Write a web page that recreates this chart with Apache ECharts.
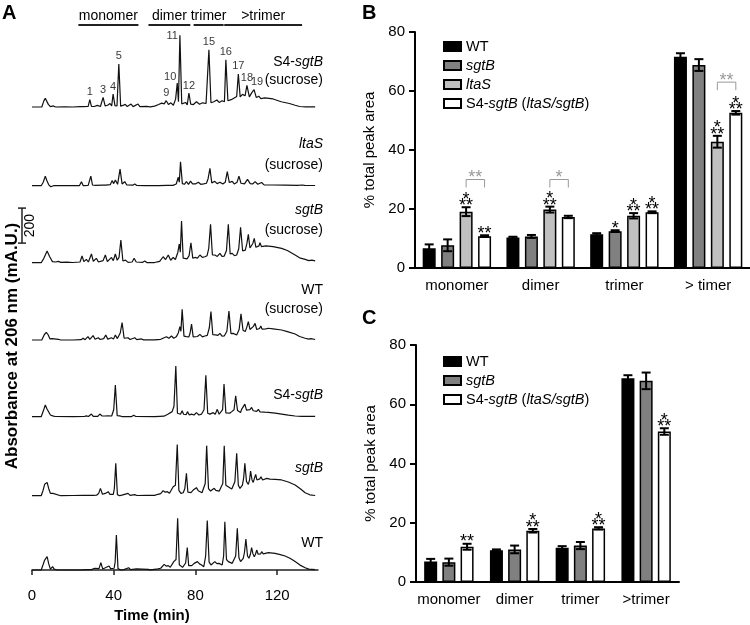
<!DOCTYPE html>
<html><head><meta charset="utf-8">
<script src="https://cdn.jsdelivr.net/npm/echarts@6/dist/echarts.min.js"></script>
<style>html,body{margin:0;padding:0;background:#fff}#c{width:750px;height:625px}</style>
</head><body><div id="c"></div><script>
// ---------------- DATA ----------------
// Panel A: HPLC chromatograms, [time (min), absorbance (mAU above baseline)]
const timeTicks = [0, 40, 80, 120];
const traceS4Suc = [[0,0],[4.8,0],[5.8,35],[6.5,50],[7.2,42],[8,15],[9,2],[10.5,6],[11.5,0],[16,1],[20,0],[23.5,2],[24.2,13],[25,2],[27.5,3],[28.3,42],[29.1,4],[30.5,3],[32,9],[33.5,3],[34.8,55],[35.8,6],[37,10],[38.2,20],[39,6],[39.7,74],[40.6,8],[41.6,6],[42.5,246],[43.4,5],[44.5,9],[45.6,15],[46.6,3],[48.5,17],[49.5,2],[51.9,17],[52.8,2],[56,4],[58,1],[60,5],[62,14],[63.5,22],[64.7,18],[65.7,36],[66.8,14],[68,24],[69.2,10],[70.3,45],[71.1,137],[71.7,30],[72.4,410],[73.3,18],[74.2,14],[75.2,26],[76,12],[76.8,80],[77.7,16],[79,14],[80.5,30],[82,16],[83.5,24],[85.2,20],[86.6,327],[87.6,24],[89,30],[90.5,40],[91.6,26],[93,36],[94.2,30],[94.9,270],[95.9,36],[97.5,42],[99,52],[100.2,60],[101,189],[101.9,58],[103,72],[104.3,64],[105.2,124],[106.4,58],[107.6,82],[108.7,99],[109.8,54],[111,62],[112,48],[114,52],[118,46],[122,30],[126,20],[128.8,10],[131,3],[134,1],[138.6,1]];
const traceLtaSSuc = [[0,0],[4.5,0],[5.5,20],[6.5,55],[7.3,28],[8.2,5],[9.2,-6],[10.5,0],[23.2,0],[24.2,23],[25.1,0],[27.5,2],[28.8,55],[29.6,4],[31,2],[34.5,3],[35.3,13],[36.1,3],[38.3,6],[39.2,29],[40,12],[40.8,32],[41.9,8],[43.1,95],[44.1,10],[45.4,23],[46.4,4],[49.3,3],[50.3,10],[51.3,1],[55,0],[62,0],[66,2],[69,2],[70.6,10],[71.6,48],[72.1,20],[72.7,137],[73.6,12],[74.6,8],[75.6,23],[76.6,8],[77.6,26],[78.6,10],[80,10],[81.4,20],[82.6,8],[84,10],[85.4,14],[86.2,40],[87.1,99],[88,16],[89.5,25],[90.6,12],[92,20],[93.4,10],[94.6,20],[95.6,80],[96.6,18],[98,25],[99,10],[100.4,20],[101.3,55],[102.3,14],[104,10],[105.5,36],[106.8,12],[108,10],[109.2,23],[110.5,8],[112.4,18],[113.6,5],[118,4],[124,3],[130,2],[132.2,4],[132.8,15],[133.5,2],[138.6,1]];
const traceSgtBSuc = [[0,0],[4.5,0],[5.8,25],[7.4,67],[8.6,35],[10,6],[11.5,4],[13,8],[14,2],[17,3],[20,1],[23.5,4],[24.5,38],[25.4,6],[26.6,19],[27.6,4],[28.3,10],[29.1,50],[30,8],[31.5,25],[32.5,4],[34.8,12],[35.9,44],[36.9,6],[38.9,30],[39.8,12],[40.8,50],[41.7,14],[42.6,30],[43.5,130],[44.5,10],[45.8,15],[47,2],[49,4],[50,25],[51,4],[54.2,2],[55.2,10],[56.2,1],[60,1],[62.5,8],[64.2,34],[65.4,18],[66.7,44],[67.9,14],[69.1,30],[70.2,18],[71.4,60],[72.1,107],[72.6,60],[73.2,238],[74,26],[74.8,30],[75.9,22],[76.9,40],[77.8,114],[78.7,26],[79.8,30],[81,26],[82.2,44],[83.4,30],[84.6,34],[85.7,40],[86.5,80],[87.4,219],[88.3,44],[89.5,44],[90.7,36],[92,53],[93,36],[94.1,38],[95.2,70],[96.1,219],[97,50],[98,53],[99.1,40],[100.2,44],[101.2,80],[102.1,202],[103.1,68],[104.4,72],[105.2,110],[105.9,162],[106.7,84],[107.5,91],[108.1,110],[108.8,139],[109.6,88],[110.5,82],[111.1,96],[111.6,114],[112.3,92],[113.2,91],[114.5,96],[115.7,95],[118,92],[122.2,82],[125,70],[128.8,44],[131,28],[133.7,19],[135.5,12],[137,15],[138.6,10]];
const traceWTSuc = [[0,0],[4.8,0],[6,30],[7,44],[7.9,30],[8.8,6],[9.8,8],[10.6,2],[13,4],[14,0],[20,0],[24,2],[25,10],[26,2],[27.4,19],[28.3,4],[29.9,25],[30.9,4],[32.4,13],[33.4,3],[35.1,8],[36.1,29],[37.1,5],[38.9,13],[39.9,5],[40.8,29],[41.8,8],[43.2,40],[44.1,99],[45.1,10],[47,13],[48,3],[50.3,13],[51.3,2],[53.6,6],[54.6,1],[60,1],[63,4],[65.8,19],[67,10],[68.3,23],[69.4,10],[70.6,18],[71.6,40],[72.4,76],[72.9,50],[73.5,175],[74.4,22],[75.6,19],[76.8,18],[77.4,40],[78.1,91],[78.9,18],[79.8,19],[81,20],[82.2,32],[83.4,18],[84.6,23],[85.8,26],[86.8,70],[87.6,162],[88.5,30],[89.9,29],[91,26],[92,38],[93,22],[94.1,23],[95.4,50],[96.4,166],[97.4,36],[98.5,38],[99.4,30],[100.2,29],[101.4,60],[102.3,149],[103.3,56],[104.4,48],[105.2,75],[105.9,105],[106.7,60],[107.5,57],[108.4,78],[109.2,95],[110,60],[110.8,53],[111.4,66],[112,80],[112.6,62],[113.2,57],[114.5,64],[115.7,67],[118,64],[122.2,57],[125,48],[128.8,34],[131,20],[133.7,10],[135.5,5],[136.5,8],[138.6,3]];
const traceS4 = [[0,0],[4.5,0],[5.6,35],[6.5,67],[7.3,45],[8,40],[9,10],[10.5,3],[11.5,1],[20,0],[25.6,1],[26.6,5],[27.6,1],[28.4,2],[29.1,15],[30,2],[32.2,2],[33.2,15],[34.2,5],[35.5,4],[36.4,15],[37.2,5],[38,8],[39,4],[40,40],[40.8,181],[41.7,6],[42.9,5],[44,1],[48.8,1],[49.8,8],[50.8,1],[60,0],[62.5,2],[63.4,8],[64.6,3],[66.7,15],[67.6,10],[68.6,29],[69.5,60],[70.4,290],[71.2,20],[71.9,19],[72.7,14],[73.5,34],[74.2,14],[74.8,19],[75.5,12],[76.1,29],[77,10],[78.1,15],[79.3,10],[80.5,23],[81.7,10],[83,15],[84.2,40],[85.1,236],[86,20],[87.1,15],[88,12],[88.7,23],[89.7,14],[90.7,42],[91.6,14],[92.5,15],[93.3,40],[94,187],[94.9,22],[95.8,23],[96.8,20],[97.8,29],[98.9,40],[99.7,120],[100.6,36],[101.5,34],[102.1,24],[102.6,42],[103.5,45],[104.2,72],[105,38],[105.9,29],[106.7,40],[107.5,53],[108.3,34],[109.2,38],[110,30],[110.8,42],[111.6,28],[112.4,29],[114,26],[115.7,25],[119,20],[122.2,15],[125.5,9],[128.8,4],[132,2],[138.6,2]];
const traceSgtB = [[0,0],[4.5,0],[5.4,30],[6.2,65],[6.8,58],[7.4,76],[8.2,40],[9,13],[9.7,8],[10.3,13],[11,2],[14,0],[20,1],[25,2],[28.3,2],[29.1,10],[29.9,2],[30.7,13],[31.6,3],[32.6,12],[33.5,42],[34.5,8],[35.9,13],[36.6,6],[37.3,23],[38.1,8],[38.9,17],[39.8,8],[40.3,40],[41,185],[41.8,6],[42.9,0],[44,3],[47,13],[48,2],[50.3,6],[51.3,1],[56,2],[60,2],[61.7,8],[63,12],[64.2,29],[65.2,20],[66.3,23],[67.3,14],[68,25],[69.1,51],[70.2,60],[71.1,293],[71.9,30],[72.9,13],[74,17],[74.8,40],[75.6,128],[76.3,20],[76.8,13],[77.8,18],[78.9,32],[79.7,26],[80.5,46],[81.4,28],[82.2,23],[83.2,17],[83.8,17],[84.8,70],[85.5,286],[86.4,40],[87.4,27],[88.3,32],[89.2,42],[90,30],[90.8,36],[91.6,26],[92.5,27],[93.4,70],[94.1,286],[94.9,60],[95.8,51],[96.8,45],[97.8,38],[99.3,80],[100.2,242],[101,60],[101.8,42],[102.4,50],[103,61],[103.6,100],[104.2,185],[105,80],[105.9,65],[106.5,90],[107,141],[107.7,90],[108.3,76],[108.9,100],[109.5,122],[110.1,90],[110.8,84],[111.5,96],[112.1,108],[112.9,90],[113.6,90],[114.9,99],[116.5,95],[119,93],[122.2,90],[125.5,78],[128.8,61],[131.5,38],[133.7,17],[136,5],[138.6,1]];
const traceWT = [[0,0],[4.5,0],[5.4,30],[6.2,57],[6.8,50],[7.4,76],[8.2,35],[9,5],[9.6,10],[10.1,19],[10.8,5],[11.6,4],[12.5,0],[20,0],[24.5,1],[27.5,2],[28.3,10],[29.1,2],[30,3],[30.7,10],[31.5,2],[32.8,8],[33.7,42],[34.6,6],[35.9,13],[36.8,8],[37.7,23],[38.5,8],[39.2,13],[40.2,10],[40.7,45],[41.3,200],[42.1,8],[43.4,0],[45,2],[47.3,13],[48.3,2],[51.1,6],[52,1],[56.9,4],[58,1],[61.7,6],[63,10],[64.7,32],[65.7,22],[66.7,25],[67.7,16],[68.5,25],[69.4,48],[70.5,60],[71.3,295],[72.1,30],[72.9,19],[73.7,15],[74.4,19],[75.2,40],[76,128],[76.7,25],[77.3,19],[78.2,25],[79.4,38],[80.2,35],[81,48],[82,35],[83,29],[84.1,19],[85,80],[85.8,282],[86.7,45],[87.6,29],[88.5,34],[89.5,48],[90.5,36],[91.5,38],[92.3,30],[93.1,29],[93.8,80],[94.4,276],[95.2,60],[96.1,48],[97,42],[98,38],[99.7,80],[100.5,238],[101.3,70],[102.1,48],[102.8,55],[103.4,67],[104,100],[104.7,177],[105.5,80],[106.2,67],[106.9,90],[107.5,128],[108.1,95],[108.8,76],[109.4,90],[110,114],[110.7,90],[111.3,82],[111.9,92],[112.4,105],[113.2,92],[114.1,90],[115.7,99],[119,95],[121.5,88],[123.9,80],[126.5,66],[128.8,48],[131.2,28],[133.7,13],[135.5,5],[138.6,2]];
const traces = [traceS4Suc, traceLtaSSuc, traceSgtBSuc, traceWTSuc, traceS4, traceSgtB, traceWT];
const traceNames = ['S4-{i|sgtB}', '{i|ltaS}', '{i|sgtB}', 'WT', 'S4-{i|sgtB}', '{i|sgtB}', 'WT'];
const traceConditions = ['(sucrose)', '(sucrose)', '(sucrose)', '(sucrose)', '', '', ''];
// numbered peaks on the top trace: [label, time, height]
const peakLabels = [['1',28.3,42],['3',34.8,55],['4',39.7,74],['5',42.5,246],['9',65.7,36],['10',71.1,137],['11',72.4,410],['12',76.8,80],['15',86.6,327],['16',94.9,270],['17',101,189],['18',105.2,124],['19',108.7,99]];
// fraction ranges [name, start min, end min]
const fractionGroups = [['monomer',22.7,52.1],['dimer',57,77.5],['trimer',79.1,93.8],['>trimer',94.1,132.2]];
// scale bar: [time, from mAU, to mAU] (200 mAU)
const scaleBar = [[-4.9, 112, 312]];
const scaleBarLabel = '200';

// Panel B
const categoriesB = ['monomer', 'dimer', 'trimer', '> timer'];
const wtB = [6.7, 10.3, 11.4, 71.6],   wtBErr = [1.3, 0.3, 0.4, 1.2];
const sgtBB = [7.7, 10.7, 12.5, 68.8], sgtBBErr = [2.0, 0.5, 0.3, 2.0];
const ltaSB = [19.1, 19.8, 17.7, 42.8], ltaSBErr = [1.5, 1.0, 0.9, 2.0];
const s4B = [10.8, 17.3, 18.9, 52.6],  s4BErr = [0.3, 0.4, 0.3, 0.6];
const wtBSig = ['', '', '', ''];
const sgtBBSig = ['', '', '*', ''];
const ltaSBSig = ['***', '***', '***', '***'];
const s4BSig = ['**', '', '***', '***'];
// comparisons ltaS vs S4: [category, bar a, bar b, bracket height, label]
const bracketsB = [[0, 2, 3, 30, '**'], [1, 2, 3, 30, '*'], [3, 2, 3, 63, '**']];

// Panel C
const categoriesC = ['monomer', 'dimer', 'trimer', '>trimer'];
const wtC = [6.9, 10.7, 11.6, 68.8],   wtCErr = [0.9, 0.3, 0.5, 1.0];
const sgtBC = [6.7, 11.0, 12.3, 67.9], sgtBCErr = [1.2, 1.3, 1.2, 2.8];
const s4C = [11.9, 17.3, 18.1, 50.8],  s4CErr = [1.0, 0.6, 0.4, 1.1];
const wtCSig = ['', '', '', ''];
const sgtBCSig = ['', '', '', ''];
const s4CSig = ['**', '***', '***', '***'];

const legendNames = ['WT', 'sgtB', 'ltaS', 'S4-sgtB (ltaS/sgtB)'];

// ---------------- LAYOUT / STYLE ----------------
const FONT = 'Liberation Sans';
const traceBaselines = [107, 185.7, 262.7, 340, 416.7, 495.7, 570];
const labelY = [[62, 80.5], [144, 165], [210, 230], [290, 309], [395], [468], [543]];
const A_LEFT = 32, A_WIDTH = 286, Y_MIN = -20, Y_MAX = 440, PX_PER_MAU = 35 / 200;
const gridH = (Y_MAX - Y_MIN) * PX_PER_MAU;
const barColors = { 'WT': '#000000', 'sgtB': '#808080', 'ltaS': '#c0c0c0', 'S4-sgtB (ltaS/sgtB)': '#ffffff' };
const BAR_W = 13, GAP_B = 0.42, GAP_C = 0.40;
const STAR_FONT = '18px "' + FONT + '"';
const STAR_OFF = 4.5;

const grids = [], xAxes = [], yAxes = [], series = [];
traces.forEach((tr, i) => {
  const top = traceBaselines[i] + (-Y_MIN) * PX_PER_MAU - gridH;
  grids.push({ left: A_LEFT, width: A_WIDTH, top: top, height: gridH });
  const last = i === traces.length - 1;
  xAxes.push({
    type: 'value', gridIndex: i, min: 0, max: 140, interval: 40, show: last,
    offset: last ? 8 : 0,
    axisLine: { show: true, lineStyle: { color: '#222', width: 1.5 } },
    axisTick: { show: true, length: 5, lineStyle: { color: '#222', width: 1.5 }, customValues: timeTicks },
    axisLabel: { fontSize: 15, color: '#000', margin: 7, customValues: timeTicks, fontFamily: FONT },
    splitLine: { show: false }
  });
  yAxes.push({ type: 'value', gridIndex: i, min: Y_MIN, max: Y_MAX, show: false, splitLine: { show: false } });
  series.push({
    type: 'line', xAxisIndex: i, yAxisIndex: i, data: tr, symbol: 'none', silent: true,
    lineStyle: { color: '#111', width: 1.2 }, clip: false
  });
});
// group header grid (7)
grids.push({ left: A_LEFT, width: A_WIDTH, top: 10, height: 15 });
xAxes.push({ type: 'value', gridIndex: 7, min: 0, max: 140, show: false });
yAxes.push({ type: 'value', gridIndex: 7, min: 0, max: 1, show: false });
series.push({
  type: 'custom', xAxisIndex: 7, yAxisIndex: 7, silent: true,
  data: fractionGroups.map(g => [g[1], g[2]]), encode: { x: [0, 1] },
  renderItem: function (params, api) {
    const a = api.coord([api.value(0), 0]), b = api.coord([api.value(1), 0]);
    return { type: 'group', children: [
      { type: 'line', shape: { x1: a[0], y1: a[1], x2: b[0], y2: b[1] }, style: { stroke: '#222', lineWidth: 2 } },
      { type: 'text', style: { text: fractionGroups[params.dataIndex][0], x: (a[0] + b[0]) / 2, y: a[1] - 9,
        align: 'center', verticalAlign: 'middle', font: '14px "' + FONT + '"', fill: '#000' } }
    ] };
  }
});
// peak numbers on top trace
series.push({
  type: 'scatter', xAxisIndex: 0, yAxisIndex: 0, symbolSize: 0, silent: true,
  data: peakLabels.map(p => {
    const d = { name: p[0], value: [p[1], p[2]] };
    if (p[0] === '10') d.label = { position: 'left', distance: 1, offset: [0, -6] };
    if (p[0] === '11') d.label = { position: 'left', distance: 2, offset: [0, 1] };
    if (p[0] === '19') d.label = { offset: [3, 0] };
    return d;
  }),
  label: { show: true, position: 'top', distance: 2, formatter: '{b}', fontSize: 11, color: '#000', fontFamily: FONT }
});
// scale bar on the sgtB (sucrose) trace scale
series.push({
  type: 'custom', xAxisIndex: 2, yAxisIndex: 2, silent: true, clip: false,
  data: scaleBar, encode: { x: 0, y: [1, 2] },
  renderItem: function (params, api) {
    const p1 = api.coord([api.value(0), api.value(1)]), p2 = api.coord([api.value(0), api.value(2)]);
    const ls = { stroke: '#222', lineWidth: 1.5 };
    return { type: 'group', children: [
      { type: 'line', shape: { x1: p1[0], y1: p1[1], x2: p2[0], y2: p2[1] }, style: ls },
      { type: 'line', shape: { x1: p1[0] - 4, y1: p1[1], x2: p1[0] + 4, y2: p1[1] }, style: ls },
      { type: 'line', shape: { x1: p2[0] - 4, y1: p2[1], x2: p2[0] + 4, y2: p2[1] }, style: ls },
      { type: 'text', x: p1[0] + 8, y: (p1[1] + p2[1]) / 2, rotation: Math.PI / 2,
        style: { text: scaleBarLabel, x: 0, y: 0, align: 'center', verticalAlign: 'middle', font: '14px "' + FONT + '"', fill: '#000' } }
    ] };
  }
});

// ---------- Panels B and C ----------
function starEl(txt, x, y, color) {
  return { type: 'text', style: { text: txt, x: x, y: y + STAR_OFF, align: 'center', verticalAlign: 'middle', font: STAR_FONT, fill: color } };
}
function addStars(ch, s, cx, yTop, color) {
  if (s === '***') {
    ch.push(starEl('**', cx, yTop - 5.5, color));
    ch.push(starEl('*', cx, yTop - 12, color));
  } else {
    ch.push(starEl(s, cx, yTop - 6, color));
  }
}
function barPanel(gi, cats, left, top, width, height, names, vals, errs, sigs, gapPct, brackets) {
  grids.push({ left: left, top: top, width: width, height: height });
  xAxes.push({
    type: 'category', gridIndex: gi, data: cats,
    axisLine: { lineStyle: { color: '#000', width: 2 } },
    axisTick: { alignWithLabel: true, length: 6, lineStyle: { color: '#000', width: 2 } },
    axisLabel: { fontSize: 15, color: '#000', margin: 10, interval: 0, fontFamily: FONT }
  });
  yAxes.push({
    type: 'value', gridIndex: gi, min: 0, max: 80, interval: 20,
    axisLine: { show: true, lineStyle: { color: '#000', width: 2 } },
    axisTick: { show: true, length: 6, lineStyle: { color: '#000', width: 2 } },
    axisLabel: { fontSize: 15, color: '#000', margin: 10, fontFamily: FONT },
    splitLine: { show: false },
    name: '% total peak area', nameLocation: 'middle', nameGap: 38,
    nameTextStyle: { fontSize: 15, color: '#000', fontFamily: FONT }
  });
  const n = names.length, gapPx = BAR_W * gapPct;
  const offs = k => (k - (n - 1) / 2) * (BAR_W + gapPx);
  names.forEach((nm, k) => {
    series.push({
      type: 'bar', name: nm, xAxisIndex: gi, yAxisIndex: gi, data: vals[k], barWidth: BAR_W,
      barGap: Math.round(gapPct * 100) + '%', silent: true,
      itemStyle: { color: barColors[nm], borderColor: '#000', borderWidth: 1.5 }
    });
    series.push({
      type: 'custom', name: nm + ' error', xAxisIndex: gi, yAxisIndex: gi, z: 5, silent: true,
      data: vals[k].map((m, i) => [i, m, errs[k][i]]), encode: { x: 0, y: 1 },
      renderItem: function (params, api) {
        const cat = api.value(0), m = api.value(1), e = api.value(2);
        const cx = api.coord([cat, m])[0] + offs(k);
        const yT = api.coord([cat, m + e])[1], yB = api.coord([cat, m - e])[1];
        const ls = { stroke: '#000', lineWidth: 2 };
        const ch = [
          { type: 'line', shape: { x1: cx, y1: yT, x2: cx, y2: yB }, style: ls },
          { type: 'line', shape: { x1: cx - 4.5, y1: yT, x2: cx + 4.5, y2: yT }, style: ls },
          { type: 'line', shape: { x1: cx - 4.5, y1: yB, x2: cx + 4.5, y2: yB }, style: ls }
        ];
        const s = sigs[k][params.dataIndex];
        if (s) addStars(ch, s, cx, yT, '#000');
        return { type: 'group', children: ch };
      }
    });
  });
  if (brackets) {
    series.push({
      type: 'custom', xAxisIndex: gi, yAxisIndex: gi, z: 5, silent: true,
      data: brackets.map(b => [b[0], b[3]]), encode: { x: 0, y: 1 },
      renderItem: function (params, api) {
        const b = brackets[params.dataIndex];
        const c = api.coord([b[0], b[3]]);
        const x1 = c[0] + offs(b[1]), x2 = c[0] + offs(b[2]), y = c[1], leg = 8;
        const ch = [{ type: 'polyline', shape: { points: [[x1, y + leg], [x1, y], [x2, y], [x2, y + leg]] },
          style: { stroke: '#999', lineWidth: 1, fill: null } }];
        addStars(ch, b[4], (x1 + x2) / 2, y, '#999');
        return { type: 'group', children: ch };
      }
    });
  }
}
barPanel(8, categoriesB, 415, 32, 335, 236, legendNames,
  [wtB, sgtBB, ltaSB, s4B], [wtBErr, sgtBBErr, ltaSBErr, s4BErr], [wtBSig, sgtBBSig, ltaSBSig, s4BSig], GAP_B, bracketsB);
barPanel(9, categoriesC, 416, 345, 263, 237, [legendNames[0], legendNames[1], legendNames[3]],
  [wtC, sgtBC, s4C], [wtCErr, sgtBCErr, s4CErr], [wtCSig, sgtBCSig, s4CSig], GAP_C, null);

const legendRich = { n: { fontSize: 14.5, fontFamily: FONT, color: '#000' }, i: { fontSize: 14.5, fontFamily: FONT, color: '#000', fontStyle: 'italic' } };
function legendFmt(name) {
  if (name === 'WT') return '{n|WT}';
  if (name === 'sgtB') return '{i|sgtB}';
  if (name === 'ltaS') return '{i|ltaS}';
  return '{n|S4-}{i|sgtB}{n| (}{i|ltaS/sgtB}{n|)}';
}
const legendBase = { orient: 'vertical', itemWidth: 17, itemHeight: 9, itemGap: 4, icon: 'rect', selectedMode: false,
  formatter: legendFmt, textStyle: { rich: legendRich, fontSize: 14.5, color: '#000' } };

// text annotations
const graphics = [];
const bold20 = 'bold 20px "' + FONT + '"';
[['A', 2, 3], ['B', 362, 3], ['C', 362, 308]].forEach(p => graphics.push({ type: 'text', x: p[1], y: p[2], style: { text: p[0], font: bold20, fill: '#000' } }));
const rich14 = { n: { fontSize: 14, fontFamily: FONT, fill: '#000' }, i: { fontSize: 14, fontFamily: FONT, fontStyle: 'italic', fill: '#000' } };
traceNames.forEach((nm, i) => {
  const txt = nm.replace(/^([^{]+)/, '{n|$1}').replace(/}([^{]+)$/, '}{n|$1}');
  graphics.push({ type: 'text', x: 323, y: labelY[i][0], style: { text: txt, rich: rich14, align: 'right', verticalAlign: 'middle', font: '14px "' + FONT + '"', fill: '#000' } });
  if (traceConditions[i]) graphics.push({ type: 'text', x: 323, y: labelY[i][1], style: { text: traceConditions[i], align: 'right', verticalAlign: 'middle', font: '14px "' + FONT + '"', fill: '#000' } });
});
graphics.push({ type: 'text', x: 12, y: 346, rotation: Math.PI / 2, style: { text: 'Absorbance at 206 nm (mA.U.)', x: 0, y: 0, align: 'center', verticalAlign: 'middle', font: 'bold 17px "' + FONT + '"', fill: '#000' } });
graphics.push({ type: 'text', x: 152, y: 616, style: { text: 'Time (min)', align: 'center', verticalAlign: 'middle', font: 'bold 15px "' + FONT + '"', fill: '#000' } });

const chart = echarts.init(document.getElementById('c'));
chart.setOption({
  animation: false,
  backgroundColor: '#fff',
  textStyle: { fontFamily: FONT },
  grid: grids, xAxis: xAxes, yAxis: yAxes,
  legend: [
    Object.assign({}, legendBase, { left: 438, top: 34, data: legendNames }),
    Object.assign({}, legendBase, { left: 438, top: 349, data: [legendNames[0], legendNames[1], legendNames[3]] })
  ],
  graphic: graphics,
  series: series
});
</script></body></html>
